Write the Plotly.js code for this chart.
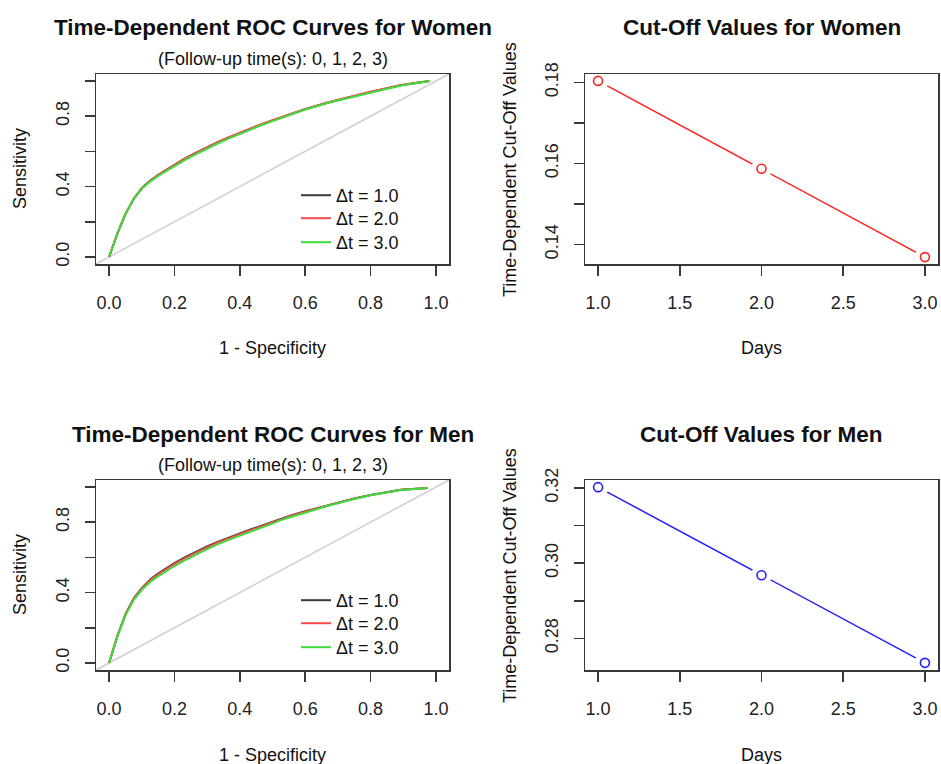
<!DOCTYPE html>
<html>
<head>
<meta charset="utf-8">
<script src="https://cdn.plot.ly/plotly-3.0.1.min.js"></script>
<style>html,body{margin:0;padding:0;background:#fff;}#chart{width:941px;height:764px;}</style>
</head>
<body>
<div id="chart"></div>
<script>
// ---------- data ----------
const fprWomen = [0, 0.0257, 0.051, 0.0765, 0.102, 0.128, 0.153, 0.179, 0.205, 0.230, 0.256, 0.281, 0.307, 0.332, 0.362, 0.393, 0.424, 0.454, 0.5, 0.526, 0.556, 0.6, 0.668, 0.75, 0.8, 0.893, 0.98];
const sensWomen1 = [0, 0.134, 0.248, 0.333, 0.395, 0.437, 0.470, 0.500, 0.530, 0.557, 0.583, 0.607, 0.630, 0.652, 0.676, 0.700, 0.723, 0.745, 0.776, 0.793, 0.814, 0.840, 0.877, 0.915, 0.938, 0.976, 1.0];
const sensWomen2 = [0, 0.134, 0.248, 0.333, 0.394, 0.436, 0.469, 0.499, 0.528, 0.556, 0.582, 0.606, 0.630, 0.652, 0.677, 0.701, 0.724, 0.746, 0.777, 0.794, 0.815, 0.841, 0.878, 0.916, 0.939, 0.977, 1.0];
const sensWomen3 = [0, 0.136, 0.249, 0.332, 0.392, 0.432, 0.464, 0.494, 0.522, 0.549, 0.575, 0.599, 0.623, 0.645, 0.670, 0.694, 0.718, 0.740, 0.772, 0.790, 0.811, 0.838, 0.875, 0.913, 0.936, 0.975, 1.0];

const fprMen = [0, 0.0257, 0.051, 0.0765, 0.102, 0.128, 0.15, 0.179, 0.2, 0.23, 0.25, 0.281, 0.3, 0.332, 0.352, 0.393, 0.424, 0.454, 0.5, 0.526, 0.556, 0.6, 0.668, 0.75, 0.8, 0.893, 0.975];
const sensMen1 = [0, 0.155, 0.280, 0.370, 0.430, 0.478, 0.508, 0.545, 0.567, 0.598, 0.617, 0.645, 0.662, 0.688, 0.703, 0.730, 0.753, 0.772, 0.802, 0.820, 0.838, 0.862, 0.897, 0.935, 0.955, 0.984, 0.995];
const sensMen2 = [0, 0.155, 0.279, 0.368, 0.427, 0.474, 0.503, 0.540, 0.562, 0.593, 0.612, 0.640, 0.657, 0.684, 0.699, 0.726, 0.749, 0.768, 0.799, 0.817, 0.835, 0.860, 0.895, 0.934, 0.954, 0.984, 0.995];
const sensMen3 = [0, 0.153, 0.275, 0.362, 0.419, 0.464, 0.492, 0.529, 0.551, 0.582, 0.601, 0.629, 0.647, 0.674, 0.690, 0.718, 0.742, 0.761, 0.792, 0.812, 0.830, 0.856, 0.892, 0.932, 0.953, 0.983, 0.995];

const seriesNames = ["Δt = 1.0", "Δt = 2.0", "Δt = 3.0"];
const days = [1, 2, 3];
const cutoffWomen = [0.1804, 0.1587, 0.1369];
const cutoffMen = [0.3202, 0.2968, 0.2735];

const rocTicks = [0, 0.2, 0.4, 0.6, 0.8, 1.0];
const rocXLabels = ["0.0", "0.2", "0.4", "0.6", "0.8", "1.0"];
const rocYLabels = ["0.0", "", "0.4", "", "0.8", ""];
const dayTicks = [1.0, 1.5, 2.0, 2.5, 3.0];
const dayLabels = ["1.0", "1.5", "2.0", "2.5", "3.0"];
const womenCutTicks = [0.14, 0.15, 0.16, 0.17, 0.18];
const womenCutLabels = ["0.14", "", "0.16", "", "0.18"];
const menCutTicks = [0.28, 0.29, 0.30, 0.31, 0.32];
const menCutLabels = ["0.28", "", "0.30", "", "0.32"];

// ---------- styling ----------
const FONT = "'Liberation Sans', Arial, Helvetica, sans-serif";
const rocColors = ["#3a3a3a", "#ff4a4a", "#3ddc3d"];
const frame = "#3a3a3a";

function axisBase(domain, range, tickvals, ticktext, anchor, isY) {
  return {
    domain: domain, range: range, anchor: anchor,
    tickmode: "array", tickvals: tickvals, ticktext: ticktext,
    showline: true, mirror: true, linecolor: frame, linewidth: 1.5,
    ticks: "outside", ticklen: 10, tickwidth: 1.5, tickcolor: frame,
    showgrid: false, zeroline: false,
    tickfont: { family: FONT, size: 18, color: "#222" },
    tickangle: isY ? -90 : 0,
    ticklabelstandoff: isY ? 8 : 12,
    fixedrange: true
  };
}

const W = 941, H = 764;
const xL = [96 / W, 449 / W], xR = [585 / W, 938 / W];
const yT = [1 - 264 / H, 1 - 74 / H], yB = [1 - 670 / H, 1 - 480 / H];

const traces = [];
const rocW = [sensWomen1, sensWomen2, sensWomen3];
const rocM = [sensMen1, sensMen2, sensMen3];
rocW.forEach((s, i) => traces.push({
  x: fprWomen, y: s, xaxis: "x", yaxis: "y", type: "scatter", mode: "lines",
  name: seriesNames[i], line: { color: rocColors[i], width: 2 },
  legend: i === 0 ? "legend" : "legend" + (i + 1)
}));
rocM.forEach((s, i) => traces.push({
  x: fprMen, y: s, xaxis: "x3", yaxis: "y3", type: "scatter", mode: "lines",
  name: seriesNames[i], line: { color: rocColors[i], width: 2 },
  legend: "legend" + (i + 4)
}));

function cutTraces(y, color, xa, ya) {
  return [
    { x: days, y: y, xaxis: xa, yaxis: ya, type: "scatter", mode: "lines",
      line: { color: color, width: 1.5 }, showlegend: false },
    { x: days, y: y, xaxis: xa, yaxis: ya, type: "scatter", mode: "markers",
      marker: { color: "#ffffff", size: 21, line: { width: 0 } }, showlegend: false },
    { x: days, y: y, xaxis: xa, yaxis: ya, type: "scatter", mode: "markers",
      marker: { symbol: "circle-open", color: color, size: 9, line: { width: 1.6, color: color } }, showlegend: false }
  ];
}
traces.push(...cutTraces(cutoffWomen, "#ff2020", "x2", "y2"));
traces.push(...cutTraces(cutoffMen, "#2020ff", "x4", "y4"));

function ann(text, x, y, size, bold, angle) {
  return { text: bold ? "<b>" + text + "</b>" : text, xref: "paper", yref: "paper",
    x: x / W, y: 1 - y / H, xanchor: "center", yanchor: "middle", showarrow: false,
    textangle: angle || 0, font: { family: FONT, size: size, color: "#111" } };
}
const cxL = (96 + 449) / 2, cxR = (585 + 938) / 2;
const annotations = [
  ann("Time-Dependent ROC Curves for Women", cxL, 28, 22.5, true),
  ann("(Follow-up time(s): 0, 1, 2, 3)", cxL, 59, 18, false),
  ann("Cut-Off Values for Women", cxR, 28, 22.5, true),
  ann("Time-Dependent ROC Curves for Men", cxL, 435, 22.5, true),
  ann("(Follow-up time(s): 0, 1, 2, 3)", cxL, 465, 18, false),
  ann("Cut-Off Values for Men", cxR, 435, 22.5, true),
  ann("1 - Specificity", cxL, 348, 18, false),
  ann("Days", cxR, 348, 18, false),
  ann("1 - Specificity", cxL, 755, 18, false),
  ann("Days", cxR, 755, 18, false),
  ann("Sensitivity", 20, 169, 18, false, -90),
  ann("Time-Dependent Cut-Off Values", 510, 169, 18, false, -90),
  ann("Sensitivity", 20, 575, 18, false, -90),
  ann("Time-Dependent Cut-Off Values", 510, 575, 18, false, -90)
];

const diag = (xr, yr) => ({ type: "line", xref: xr + " domain", yref: yr + " domain", x0: 0, y0: 0, x1: 1, y1: 1,
  line: { color: "#d0d0d0", width: 1.5 }, layer: "below" });

// one legend per entry so each row sits where the reference puts it
const legendStyle = (top) => ({ x: 296 / W, y: 1 - top / H, xanchor: "left", yanchor: "top",
  bgcolor: "rgba(0,0,0,0)", borderwidth: 0, font: { family: FONT, size: 18, color: "#111" },
  itemwidth: 30 });
const rowTops = [177, 200, 224, 582, 605, 629];

const layout = {
  width: W, height: H, margin: { l: 0, r: 0, t: 0, b: 0 },
  paper_bgcolor: "#fff", plot_bgcolor: "#fff",
  showlegend: true,
  xaxis: axisBase(xL, [-0.04, 1.04], rocTicks, rocXLabels, "y", false),
  yaxis: axisBase(yT, [-0.04, 1.04], rocTicks, rocYLabels, "x", true),
  xaxis2: axisBase(xR, [0.92, 3.08], dayTicks, dayLabels, "y2", false),
  yaxis2: axisBase(yT, [0.1352, 0.1821], womenCutTicks, womenCutLabels, "x2", true),
  xaxis3: axisBase(xL, [-0.04, 1.04], rocTicks, rocXLabels, "y3", false),
  yaxis3: axisBase(yB, [-0.04, 1.04], rocTicks, rocYLabels, "x3", true),
  xaxis4: axisBase(xR, [0.92, 3.08], dayTicks, dayLabels, "y4", false),
  yaxis4: axisBase(yB, [0.2716, 0.3221], menCutTicks, menCutLabels, "x4", true),
  annotations: annotations,
  shapes: [diag("x", "y"), diag("x3", "y3")]
};
rowTops.forEach((t, i) => { layout[i === 0 ? "legend" : "legend" + (i + 1)] = legendStyle(t); });

Plotly.newPlot("chart", traces, layout, { displayModeBar: false, staticPlot: true });
</script>
</body>
</html>
